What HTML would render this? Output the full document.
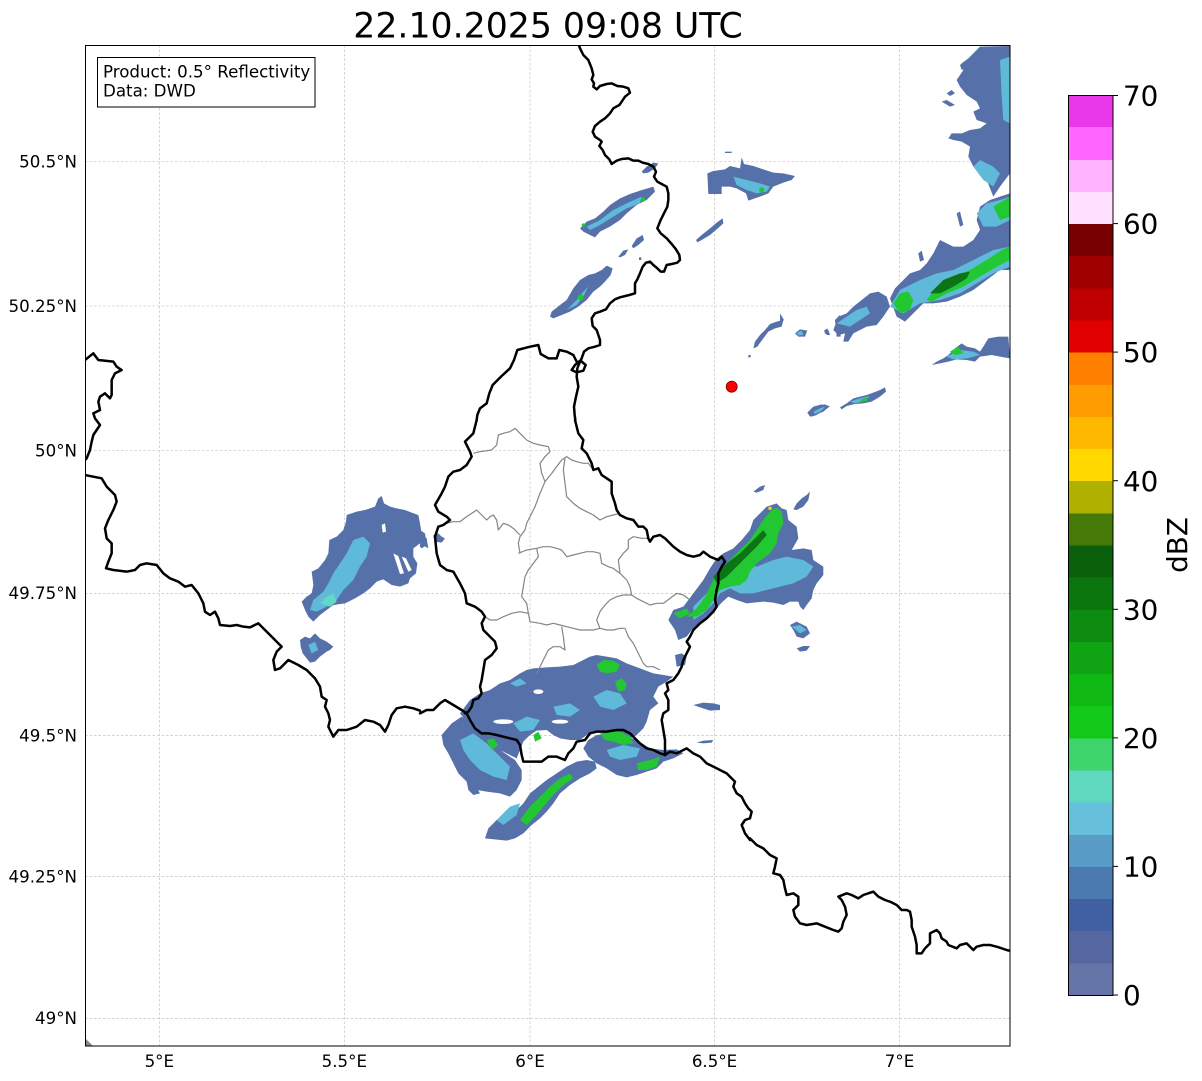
<!DOCTYPE html>
<html><head><meta charset="utf-8"><style>html,body{margin:0;padding:0;background:#fff}svg{display:block}</style></head>
<body>
<svg xmlns="http://www.w3.org/2000/svg" width="1202" height="1081" viewBox="0 0 1202 1081" font-family="DejaVu Sans, Liberation Sans, sans-serif">
<rect width="1202" height="1081" fill="#fff"/>
<defs><clipPath id="ax"><rect x="85.5" y="45.5" width="924.5" height="1000.5"/></clipPath></defs>
<g clip-path="url(#ax)">
  <!-- gridlines -->
  <g stroke="#b8b8b8" stroke-width="0.6" stroke-dasharray="2.5,2" fill="none">
    <line x1="159.3" y1="45" x2="159.3" y2="1046"/>
    <line x1="344.3" y1="45" x2="344.3" y2="1046"/>
    <line x1="530" y1="45" x2="530" y2="1046"/>
    <line x1="714.5" y1="45" x2="714.5" y2="1046"/>
    <line x1="899.5" y1="45" x2="899.5" y2="1046"/>
    <line x1="85" y1="161.5" x2="1010" y2="161.5"/>
    <line x1="85" y1="306" x2="1010" y2="306"/>
    <line x1="85" y1="450.5" x2="1010" y2="450.5"/>
    <line x1="85" y1="593.3" x2="1010" y2="593.3"/>
    <line x1="85" y1="735.7" x2="1010" y2="735.7"/>
    <line x1="85" y1="876.7" x2="1010" y2="876.7"/>
    <line x1="85" y1="1018.3" x2="1010" y2="1018.3"/>
  </g>

  <!-- ===== Echoes: frame Z5 (420,40) ===== -->
  <g transform="translate(420,40) scale(0.333333)">
    <g fill="#5670aa">
      <polygon points="665,395 680,380 700,368 715,370 705,385 685,398 670,400"/>
      <polygon points="480,565 500,545 525,535 550,515 570,495 600,475 630,462 660,452 700,440 705,455 680,480 650,495 620,520 600,540 570,560 540,575 525,592 510,585 490,575"/>
      <polygon points="595,650 610,632 625,628 615,645 600,652"/>
      <polygon points="635,618 650,595 668,585 672,600 655,615 640,625"/>
      <rect x="657" y="652" width="7" height="8"/>
      <polygon points="390,830 395,815 420,795 440,780 460,745 480,720 505,705 525,700 545,690 560,677 578,685 572,705 555,725 540,740 520,755 500,780 475,800 450,815 425,825 400,835"/>
      <polygon points="828,600 845,585 870,565 890,548 908,535 910,550 890,568 870,585 845,600 832,607"/>
      <polygon points="862,400 880,393 915,388 930,378 960,385 965,352 972,372 1000,378 1030,388 1060,398 1090,400 1125,408 1115,420 1090,428 1060,440 1045,460 1020,470 985,482 978,460 950,445 930,440 905,440 905,462 865,462"/>
      <rect x="915" y="335" width="20" height="4"/>
      <polygon points="1000,925 1005,905 1020,885 1035,870 1050,852 1070,845 1090,840 1085,860 1065,865 1045,875 1030,895 1012,920"/>
      <polygon points="1128,878 1140,868 1162,872 1155,888 1135,888"/>
      <polygon points="1212,872 1222,865 1228,880 1216,882"/>
      <polygon points="1245,840 1260,825 1262,890 1250,890"/>
      <rect x="985" y="945" width="7" height="7"/>
      <polygon points="1162,1118 1180,1100 1205,1093 1228,1100 1210,1115 1185,1125 1170,1130"/>
    </g>
    <g fill="#5fb9d8">
      <polygon points="500,560 540,540 580,510 620,490 665,470 660,490 620,505 580,530 540,555 510,570"/>
      <polygon points="440,810 470,780 490,755 505,740 490,770 470,795"/>
      <polygon points="940,410 980,420 1020,430 1050,440 1040,455 1010,460 980,450 950,435"/>
      <polygon points="1135,880 1150,874 1155,885 1140,886"/>
      <polygon points="1180,1112 1200,1102 1210,1108 1190,1118"/>
    </g>
    <g fill="#22c832">
      <circle cx="482" cy="772" r="9"/>
      <circle cx="1025" cy="450" r="8"/>
      <circle cx="670" cy="478" r="6"/>
      <circle cx="490" cy="555" r="5"/>
    </g>
  </g>

  <!-- ===== Echoes: frame Z8 (780,40) ===== -->
  <g transform="translate(780,40) scale(0.333333)">
    <g fill="#5670aa">
      <polygon points="600,20 690,18 690,400 675,420 660,440 640,470 620,420 600,400 580,380 565,350 570,320 545,305 520,300 505,295 515,280 545,280 570,270 600,265 620,250 590,240 580,215 600,205 590,185 560,165 540,140 530,120 550,90 545,70 565,55 580,40"/>
      <polygon points="485,185 500,180 525,195 510,200"/>
      <polygon points="500,160 515,150 525,160 510,168"/>
      <polygon points="540,75 548,68 555,85 545,90"/>
      <polygon points="530,520 540,515 550,555 540,560"/>
      <polygon points="330,775 345,745 370,720 390,700 420,690 440,670 460,640 480,600 500,610 520,620 550,620 580,600 600,570 590,540 600,500 630,480 660,470 690,460 690,690 660,690 620,720 580,750 540,770 500,785 460,790 430,790 410,810 390,830 375,845 350,830"/>
      <polygon points="415,640 425,632 432,660 420,665"/>
      <polygon points="160,870 175,830 200,820 220,800 245,780 270,760 295,755 320,770 330,800 310,830 290,855 260,860 240,870 220,880 205,905 190,905 195,880 175,885"/>
      <polygon points="45,880 60,868 80,875 75,890 55,890"/>
      <polygon points="135,875 145,870 150,885 140,885"/>
      <polygon points="0,820 12,840 0,850"/>
      <polygon points="455,975 470,965 490,955 505,945 525,925 545,910 560,920 585,925 600,935 610,920 625,895 655,890 685,890 690,955 660,950 635,945 600,950 585,965 560,960 530,958 505,965 480,970"/>
      <polygon points="85,1120 95,1105 115,1098 135,1093 150,1100 130,1110 110,1125 95,1130"/>
      <polygon points="180,1102 200,1090 220,1075 240,1070 260,1065 280,1058 300,1050 315,1042 318,1055 300,1070 275,1085 250,1090 225,1092 200,1098 185,1108"/>
    </g>
    <g fill="#5fb9d8">
      <polygon points="660,60 690,50 690,250 670,240 665,170"/>
      <polygon points="580,380 600,360 640,380 660,400 640,440 610,420"/>
      <polygon points="590,520 620,490 660,480 690,470 690,540 650,560 610,560"/>
      <polygon points="330,800 360,750 420,720 470,700 520,690 560,670 600,650 640,630 690,620 690,680 640,700 590,730 540,760 480,780 420,790 370,820"/>
      <polygon points="170,850 200,830 230,810 260,800 270,820 240,840 210,860"/>
      <polygon points="500,950 540,930 580,935 600,945 560,955 520,958"/>
      <polygon points="100,1115 120,1105 135,1100 125,1112 105,1122"/>
      <polygon points="210,1085 240,1075 270,1068 255,1082 225,1090"/>
      <polygon points="50,878 65,872 70,885 55,886"/>
    </g>
    <g fill="#22c832">
      <polygon points="440,780 470,740 520,710 570,690 620,660 665,630 690,620 690,660 650,680 600,710 550,740 500,760 455,785"/>
      <polygon points="340,790 360,760 385,755 400,780 390,810 360,820"/>
      <polygon points="640,500 690,470 690,530 660,540"/>
      <polygon points="510,935 535,920 550,940 525,945"/>
      <polygon points="240,1080 260,1072 262,1082 245,1086"/>
    </g>
    <g fill="#0c7414">
      <polygon points="450,760 490,720 540,700 570,695 560,715 520,740 480,760"/>
    </g>
  </g>

  <!-- ===== Echoes: frame Z6 (80,340) ===== -->
  <g transform="translate(80,340) scale(0.333333)">
    <g fill="#5670aa">
      <polygon points="665,785 680,770 695,760 700,735 695,695 715,685 735,660 745,640 748,600 770,590 790,570 798,545 800,525 830,515 855,510 885,500 895,475 905,468 912,490 930,500 950,505 975,510 995,518 1015,525 1020,550 1025,580 1040,595 1045,625 1020,610 1000,625 1000,650 1012,670 1008,700 990,715 985,730 960,740 935,735 910,718 890,725 870,745 850,760 825,775 795,790 760,795 740,810 720,825 700,845 685,830 675,810"/>
      <polygon points="660,900 675,890 690,895 705,880 720,895 740,905 760,920 750,930 740,935 720,950 705,965 690,968 680,955 668,940 662,920"/>
      <polygon points="1060,590 1075,585 1095,595 1085,608 1065,605"/>
    </g>
    <g fill="#fff">
      <polygon points="940,640 955,648 972,700 960,702"/>
      <polygon points="965,650 978,655 995,690 985,695"/>
      <polygon points="905,555 915,550 918,575 908,578"/>
    </g>
    <g fill="#5fb9d8">
      <polygon points="690,810 700,780 730,755 745,730 760,700 780,670 800,640 820,600 850,590 870,610 860,650 840,680 820,720 790,750 770,780 740,800 710,815"/>
      <polygon points="685,915 705,905 715,930 695,940"/>
    </g>
    <g fill="#62d8c8">
      <polygon points="720,790 740,770 760,760 770,785 750,800"/>
    </g>
  </g>

  <!-- ===== Echoes: frame Z7 (420,420) ===== -->
  <g transform="translate(420,420) scale(0.333333)">
    <g fill="#5670aa">
      <polygon points="820,520 850,480 870,445 890,415 910,400 940,385 965,360 990,330 1000,300 1020,280 1040,260 1070,250 1085,265 1100,270 1105,300 1130,320 1135,355 1115,390 1150,385 1175,390 1180,420 1210,440 1210,465 1190,490 1180,510 1175,535 1160,555 1150,570 1140,560 1135,545 1110,545 1090,555 1060,548 1030,545 1000,548 980,550 950,540 925,530 905,548 885,570 860,590 840,610 815,630 800,650 775,660 765,630 745,600 760,570 790,560"/>
      <polygon points="1000,215 1020,200 1035,195 1030,210 1010,218"/>
      <polygon points="1120,268 1130,250 1145,235 1160,225 1170,215 1165,240 1150,260 1130,270"/>
      <polygon points="1110,615 1130,605 1160,620 1170,640 1150,655 1130,650 1120,630"/>
      <polygon points="1130,685 1150,678 1170,678 1160,692 1140,695"/>
      <polygon points="765,705 785,700 800,710 795,735 770,740"/>
      <polygon points="820,855 850,848 880,850 900,855 900,870 870,872 840,862"/>
      <polygon points="830,968 850,962 880,960 875,968 850,970"/>
      <polygon points="0,330 15,340 20,375 5,385 0,380"/>
      <polygon points="40,345 55,340 70,355 55,365 45,360"/>
      <!-- southern -->
      <polygon points="120,880 150,840 180,820 210,810 240,790 270,780 300,760 320,750 340,745 380,742 420,740 460,735 490,720 510,710 530,705 560,710 590,715 620,730 660,745 700,760 730,765 760,770 740,785 715,800 700,830 715,850 690,870 680,905 670,925 650,945 630,955 600,940 560,935 520,935 500,945 480,960 450,960 420,955 400,945 380,930 350,932 330,945 310,965 300,990 290,1015 260,1000 230,985 195,960 160,930 140,905"/>
      <polygon points="65,945 95,910 125,890 160,910 190,945 220,975 255,1000 285,1020 305,1050 305,1080 290,1110 270,1130 240,1120 200,1115 170,1110 150,1095 115,1060 100,1030 85,1000 70,975"/>
      <polygon points="490,985 505,960 530,945 570,940 610,945 650,960 690,985 730,990 770,988 790,1000 760,1015 730,1025 710,1045 680,1055 650,1065 620,1072 590,1065 560,1045 530,1030 505,1010"/>
      <polygon points="195,1255 205,1225 230,1200 260,1185 285,1175 310,1150 330,1120 355,1100 380,1080 410,1060 440,1040 470,1025 500,1020 525,1025 530,1045 510,1060 480,1075 450,1095 420,1120 400,1150 380,1175 360,1195 335,1215 310,1240 285,1255 260,1262"/>
      <polygon points="140,1085 165,1095 180,1120 160,1125 145,1110"/>
    </g>
    <g fill="#fff">
      <ellipse cx="965" cy="478" rx="22" ry="7"/>
      <ellipse cx="1062" cy="440" rx="12" ry="5"/>
      <ellipse cx="355" cy="815" rx="15" ry="7"/>
      <ellipse cx="420" cy="905" rx="25" ry="6"/>
      <ellipse cx="250" cy="905" rx="30" ry="7"/>
    </g>
    <g fill="#5fb9d8">
      <polygon points="820,560 860,520 900,470 940,440 980,430 1010,440 1060,420 1100,410 1150,420 1180,440 1160,470 1120,490 1080,500 1040,510 1000,520 960,520 930,505 900,520 880,550 850,580 820,600"/>
      <polygon points="120,960 160,940 200,970 240,1010 270,1040 260,1080 220,1070 180,1050 150,1020 130,990"/>
      <polygon points="280,910 320,890 360,900 340,930 300,935"/>
      <polygon points="400,860 450,850 480,870 450,890 410,885"/>
      <polygon points="520,830 560,810 600,820 620,850 580,870 540,860"/>
      <polygon points="230,1200 270,1160 300,1150 290,1185 250,1215"/>
      <polygon points="560,990 610,975 660,985 650,1010 600,1020 570,1010"/>
      <polygon points="1115,620 1140,615 1160,630 1140,640"/>
      <polygon points="270,790 300,775 320,790 290,800"/>
    </g>
    <g fill="#22c832">
      <polygon points="800,590 830,565 855,530 880,480 900,450 930,420 960,390 990,360 1010,330 1030,300 1050,275 1070,262 1085,275 1090,310 1075,340 1070,370 1050,400 1030,415 1010,430 990,455 980,480 960,495 930,500 900,510 880,540 860,570 830,590"/>
      <polygon points="530,735 550,720 580,722 600,735 590,755 560,760 540,755"/>
      <polygon points="585,785 605,775 620,790 615,810 595,815"/>
      <polygon points="540,940 570,935 600,935 630,950 640,970 610,975 580,965 555,960"/>
      <polygon points="650,1030 690,1020 720,1010 710,1040 680,1050 655,1050"/>
      <polygon points="300,1200 330,1160 360,1130 390,1100 420,1075 450,1060 460,1075 430,1095 400,1125 370,1160 345,1190 320,1215"/>
      <polygon points="200,960 220,955 235,975 215,990"/>
      <polygon points="340,945 355,935 365,955 345,965"/>
      <polygon points="760,580 800,565 810,580 780,595"/>
    </g>
    <g fill="#0c7414">
      <polygon points="880,470 920,430 960,400 1000,360 1030,330 1040,345 1010,380 980,410 950,440 920,470 890,490"/>
    </g>
    <circle cx="1050" cy="265" r="5" fill="#ffd800"/>
  </g>

  <!-- small grey corner mark -->
  <polygon points="85,1038 93,1046 85,1046" fill="#888"/>

  <!-- ===== Admin (grey) lines, frame Z7 ===== -->
  <g transform="translate(420,420) scale(0.333333)" fill="none" stroke="#858585" stroke-width="3.6" stroke-linejoin="round">
    <polyline points="160,100 180,95 215,90 230,75 235,45 250,40 270,35 285,25 300,40 320,60 340,70 360,75 385,80 390,95 375,110 360,130 365,160 375,185 360,220 345,260 330,290 320,310 315,330 300,350 295,370 300,400"/>
    <polyline points="375,185 395,160 410,140 425,120 440,110 455,120 470,125 490,130 505,130 520,150"/>
    <polyline points="435,115 430,150 435,190 440,230 460,250 480,265 500,275 520,285 540,300 560,290 580,285 600,280"/>
    <polyline points="55,320 80,310 100,305 120,305 140,290 155,280 170,270 185,285 200,300 210,290 220,285 230,300 235,330 250,310 265,315 280,325 300,345"/>
    <polyline points="295,400 320,390 350,385 370,380 390,380 410,385 425,390 440,410 460,405 480,400 500,395 520,395 540,400 545,430 565,440 580,445 600,460"/>
    <polyline points="350,385 355,410 340,430 325,450 315,470 310,500 305,530 320,550 325,580"/>
    <polyline points="600,460 620,480 630,500 635,525 650,535 670,545 690,555 710,550 730,550 750,535 770,520 790,525 810,540"/>
    <polyline points="600,460 595,420 610,400 625,385 625,360 640,350 665,355 685,355"/>
    <polyline points="325,580 300,575 275,580 250,590 230,600 210,600 195,590"/>
    <polyline points="325,580 330,605 360,610 380,615 400,610 420,615 440,620 460,625 480,630 500,630 520,630 540,625 560,630 580,630 600,625 615,625"/>
    <polyline points="540,625 530,600 540,575 555,555 570,540 590,530 610,525 635,525"/>
    <polyline points="615,625 625,650 640,670 650,690 660,710 670,730 680,740 700,740 720,750"/>
    <polyline points="425,620 430,650 435,690 420,680 400,680 385,690 375,710 360,740 350,760"/>
  </g>

  <!-- ===== Borders (black) ===== -->
  <g fill="none" stroke="#000" stroke-width="7.5" stroke-linejoin="round" stroke-linecap="round">
    <g transform="translate(420,40) scale(0.333333)">
      <polyline points="475,10 480,25 490,45 505,60 515,85 520,105 515,118 522,130 520,140 530,148 540,138 560,132 575,130 592,138 610,140 625,145 630,158 615,170 605,185 598,195 580,205 570,220 555,235 540,245 525,258 518,275 525,290 540,300 545,305 538,318 548,330 555,345 568,358 575,372 590,362 605,357 625,355 640,362 655,362 668,368 685,372 700,380 708,395 702,410 712,425 725,432 740,440 745,460 745,480 742,500 732,520 722,540 712,565 722,580 740,595 755,612 768,628 778,645 780,660 772,668 755,672 740,675 732,695 722,695 712,685 700,675 690,665 678,668 668,680 660,700 652,718 645,730 645,760 628,765 600,772 585,778 570,790 558,808 540,815 525,820 515,835 518,858 530,870 535,885 540,900 540,915 525,920 505,925 492,935 485,955 480,965 472,985 470,1010 475,1040 468,1070 462,1100 464,1125 466,1140"/>
      <polyline points="480,962 465,975 455,990 470,997 490,992 497,975 482,962"/>
      <polyline points="470,965 460,945 440,935 418,930 410,955 385,955 362,942 355,915 330,920 292,930 282,960 270,985 245,1008 218,1035 208,1060 200,1090 180,1105 172,1125 170,1140"/>
    </g>
    <g transform="translate(420,420) scale(0.333333)">
      <polyline points="170,0 160,40 135,65 150,95 155,110 140,135 120,150 100,155 85,170 75,200 65,220 45,255 55,275 80,290 90,300 70,315 55,320 45,350 50,400 60,435 80,450 100,455 120,490 135,520 140,550 165,560 185,575 195,590 185,610 190,630 210,650 225,665 230,685 215,705 195,720 190,750 185,780 180,800 185,820 175,835 160,840 155,860 145,875 135,880"/>
      <polyline points="0,880 20,870 40,870 60,850 75,840 100,855 125,870 140,880 150,900 165,925 185,940 205,940 230,945 250,950 270,955 290,960 300,975 305,1005 310,1025 340,1025 365,1025 385,1010 410,1010 435,1020 445,1000 460,985 470,965 495,960 510,940 530,935 560,935 590,930 610,930 630,940 645,955 660,970 680,985 700,990 720,1000 735,1005"/>
      <polyline points="465,0 475,40 490,60 485,85 500,100 515,130 520,150 535,145 545,165 560,175 575,185 575,220 585,250 590,270 600,285 620,295 640,300 655,320 670,320 680,330 685,355 690,365 700,350 720,345 735,355 760,380 780,395 800,405 820,410 840,405 850,395 870,410 895,420 905,410 915,425 905,440 895,460 895,490 890,510 885,540 890,560 880,575 860,595 840,610 820,630 810,650 800,665 810,680 800,700 790,720 785,740 775,760 760,780 740,790 745,810 735,820 745,840 745,870 730,880 725,900 730,930 735,960 735,1005"/>
      <polyline points="735,1005 750,995 770,1000 790,990 800,985 820,1000 840,1010 860,1030 880,1040 900,1050 920,1060 935,1075 945,1085 940,1100 950,1120 965,1130 975,1150 985,1165 995,1175 990,1195 975,1200 965,1215 975,1240 990,1260"/>
    </g>
    <g transform="translate(540,740) scale(0.333333)">
      <polyline points="630,295 650,315 670,325 690,345 710,355 705,380 700,400 720,405 730,420 735,445 740,465 760,460 775,470 775,495 760,510 765,530 780,550 800,555 830,550 855,560 880,570 895,575 905,565 910,545 920,525 915,500 905,480 895,470 920,460 935,465 955,475 970,465 985,460 1000,455 1015,470 1035,480 1050,485 1070,495 1085,510 1100,510 1110,515 1115,540 1115,560 1125,590 1130,615 1130,640 1145,640 1155,625 1170,610 1170,580 1190,570 1200,580 1205,595 1220,605 1225,615 1250,625 1260,615 1280,610 1300,630 1310,620 1330,615 1350,615 1370,620 1385,625 1400,630 1420,635"/>
    </g>
    <g transform="translate(80,340) scale(0.333333)">
      <polyline points="0,75 15,60 40,40 55,60 100,65 110,80 125,90 105,100 95,120 95,165 90,175 75,160 60,170 55,185 60,210 40,220 45,235 60,255 50,270 40,285 35,305 30,330 20,355 10,365"/>
      <polyline points="0,403 15,405 40,410 65,415 80,440 105,465 110,485 100,510 85,540 75,565 80,595 95,610 95,640 85,665 78,685 100,690 140,695 165,690 180,675 200,670 230,675 250,700 270,715 295,725 315,740 335,735 355,760 370,790 375,815 390,825 405,815 415,835 420,855 450,858 470,855 490,860 510,862 535,850 555,870 575,890 595,910 605,920 590,935 580,960 585,990 600,985 615,970 625,960 655,975 680,990 705,1015 720,1040 725,1070 740,1080 735,1100 745,1120 750,1140 745,1160 760,1190 775,1170 800,1170 830,1160 855,1140 880,1145 900,1155 915,1175 925,1155 935,1125 950,1105 975,1100 1000,1105 1020,1112"/>
    </g>
  </g>

  <!-- radar site -->
  <circle cx="731.7" cy="386.7" r="5.5" fill="#ff0000" stroke="#700" stroke-width="0.8"/>
</g>

<!-- axes frame -->
<rect x="85.5" y="45.5" width="924.5" height="1000.5" fill="none" stroke="#000" stroke-width="1"/>

<!-- info box -->
<rect x="97.5" y="57.5" width="217.5" height="49.5" fill="#fff" stroke="#000" stroke-width="1"/>
<text x="103" y="77.3" font-size="16.67" fill="#000">Product: 0.5° Reflectivity</text>
<text x="103" y="96.7" font-size="16.67" fill="#000">Data: DWD</text>

<!-- title -->
<text x="548" y="37.5" font-size="34.7" text-anchor="middle" fill="#000">22.10.2025 09:08 UTC</text>

<!-- y labels -->
<g font-size="16.67" text-anchor="end" fill="#000">
  <text x="77" y="167.3">50.5°N</text>
  <text x="77" y="311.8">50.25°N</text>
  <text x="77" y="456.3">50°N</text>
  <text x="77" y="599.1">49.75°N</text>
  <text x="77" y="741.5">49.5°N</text>
  <text x="77" y="882.5">49.25°N</text>
  <text x="77" y="1024.1">49°N</text>
</g>
<!-- x labels -->
<g font-size="16.67" text-anchor="middle" fill="#000">
  <text x="159.3" y="1067">5°E</text>
  <text x="344.3" y="1067">5.5°E</text>
  <text x="530" y="1067">6°E</text>
  <text x="714.5" y="1067">6.5°E</text>
  <text x="899.5" y="1067">7°E</text>
</g>

<!-- colorbar -->
<g shape-rendering="crispEdges">
  <rect x="1068" y="962.86" width="45" height="32.64" fill="#6575a8"/>
  <rect x="1068" y="930.71" width="45" height="32.64" fill="#5567a0"/>
  <rect x="1068" y="898.57" width="45" height="32.64" fill="#4160a4"/>
  <rect x="1068" y="866.43" width="45" height="32.64" fill="#4a7ab0"/>
  <rect x="1068" y="834.29" width="45" height="32.64" fill="#5a9cc8"/>
  <rect x="1068" y="802.14" width="45" height="32.64" fill="#66c0dc"/>
  <rect x="1068" y="770.00" width="45" height="32.64" fill="#60d8c0"/>
  <rect x="1068" y="737.86" width="45" height="32.64" fill="#3ed46c"/>
  <rect x="1068" y="705.71" width="45" height="32.64" fill="#12c818"/>
  <rect x="1068" y="673.57" width="45" height="32.64" fill="#10b814"/>
  <rect x="1068" y="641.43" width="45" height="32.64" fill="#10a414"/>
  <rect x="1068" y="609.29" width="45" height="32.64" fill="#0e8c12"/>
  <rect x="1068" y="577.14" width="45" height="32.64" fill="#0b760e"/>
  <rect x="1068" y="545.00" width="45" height="32.64" fill="#0a600a"/>
  <rect x="1068" y="512.86" width="45" height="32.64" fill="#457a08"/>
  <rect x="1068" y="480.71" width="45" height="32.64" fill="#b0b000"/>
  <rect x="1068" y="448.57" width="45" height="32.64" fill="#ffd800"/>
  <rect x="1068" y="416.43" width="45" height="32.64" fill="#ffb800"/>
  <rect x="1068" y="384.29" width="45" height="32.64" fill="#ff9c00"/>
  <rect x="1068" y="352.14" width="45" height="32.64" fill="#ff8000"/>
  <rect x="1068" y="320.00" width="45" height="32.64" fill="#e00000"/>
  <rect x="1068" y="287.86" width="45" height="32.64" fill="#c00000"/>
  <rect x="1068" y="255.71" width="45" height="32.64" fill="#a00000"/>
  <rect x="1068" y="223.57" width="45" height="32.64" fill="#780000"/>
  <rect x="1068" y="191.43" width="45" height="32.64" fill="#ffe0ff"/>
  <rect x="1068" y="159.29" width="45" height="32.64" fill="#ffb3ff"/>
  <rect x="1068" y="127.14" width="45" height="32.64" fill="#ff66ff"/>
  <rect x="1068" y="95.00" width="45" height="32.14" fill="#e838e8"/>
</g>
<rect x="1068.5" y="95.5" width="44.5" height="900" fill="none" stroke="#000" stroke-width="1"/>
<g stroke="#000" stroke-width="1">
  <line x1="1113" y1="995" x2="1118" y2="995"/>
  <line x1="1113" y1="866.4" x2="1118" y2="866.4"/>
  <line x1="1113" y1="737.9" x2="1118" y2="737.9"/>
  <line x1="1113" y1="609.3" x2="1118" y2="609.3"/>
  <line x1="1113" y1="480.7" x2="1118" y2="480.7"/>
  <line x1="1113" y1="352.1" x2="1118" y2="352.1"/>
  <line x1="1113" y1="223.6" x2="1118" y2="223.6"/>
  <line x1="1113" y1="95.5" x2="1118" y2="95.5"/>
</g>
<g font-size="27.8" fill="#000">
  <text x="1123" y="1005.1">0</text>
  <text x="1123" y="876.5">10</text>
  <text x="1123" y="748">20</text>
  <text x="1123" y="619.4">30</text>
  <text x="1123" y="490.8">40</text>
  <text x="1123" y="362.2">50</text>
  <text x="1123" y="233.7">60</text>
  <text x="1123" y="105.5">70</text>
</g>
<text transform="translate(1187,545) rotate(-90)" font-size="27.8" text-anchor="middle" fill="#000">dBZ</text>
</svg>
</body></html>
